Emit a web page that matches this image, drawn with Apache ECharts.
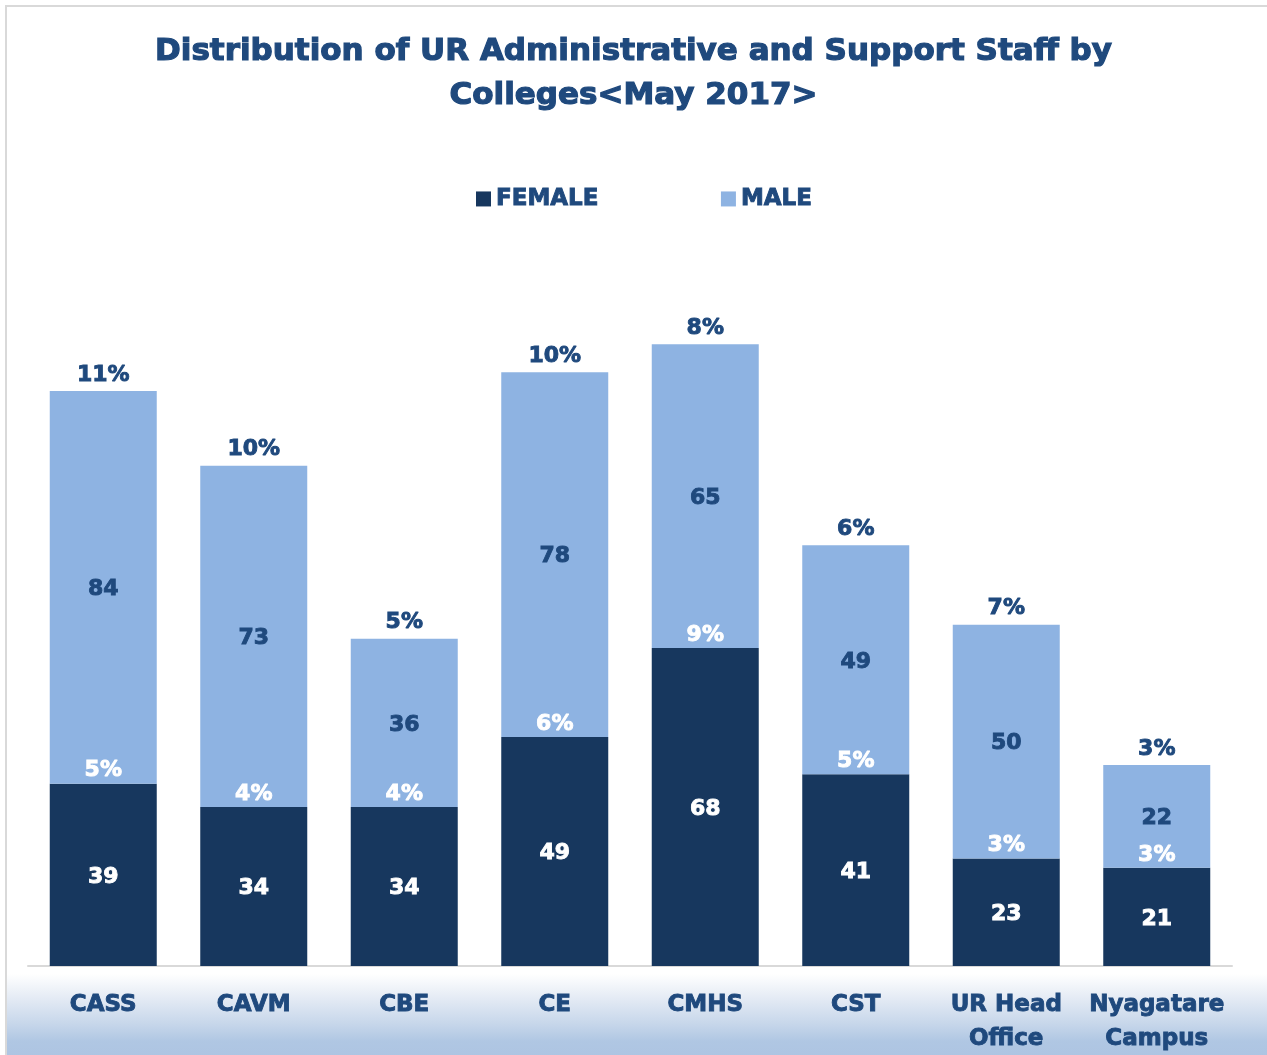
<!DOCTYPE html>
<html><head><meta charset="utf-8">
<script src="https://cdn.jsdelivr.net/npm/echarts@6/dist/echarts.min.js"></script>
<style>html,body{margin:0;padding:0;background:#fff;overflow:hidden}#c{width:1267px;height:1055px}</style>
</head><body><div id="c"></div>
<script>
const categories = ['CASS','CAVM','CBE','CE','CMHS','CST','UR Head\nOffice','Nyagatare\nCampus'];
const female = [39,34,34,49,68,41,23,21];
const male = [84,73,36,78,65,49,50,22];
const femalePct = ['5%','4%','4%','6%','9%','5%','3%','3%'];
const malePct = ['11%','10%','5%','10%','8%','6%','7%','3%'];
const totals = female.map((f,i)=>f+male[i]);

const FONT = '"DejaVu Sans", Verdana, sans-serif';
const TXT = '#1f497d';
function heavy(color, size, extra){
  return Object.assign({fontFamily:FONT,fontWeight:'bold',fontSize:size,color:color,textBorderColor:color,textBorderWidth:0.9}, extra||{});
}
const chart = echarts.init(document.getElementById('c'));
chart.setOption({
  animation:false,
  graphic:[
    {type:'rect', shape:{x:7,y:974,width:1262,height:84},
     style:{fill:new echarts.graphic.LinearGradient(0,0,0,1,[
       {offset:0,color:'#ffffff'},{offset:0.3,color:'#e3eaf4'},{offset:0.6,color:'#c6d6ea'},{offset:0.8,color:'#b0c7e3'},{offset:1,color:'#adc4e2'}])}, z:-1},
    {type:'rect', shape:{x:6,y:6,width:1275,height:1060}, style:{fill:null,stroke:'#d9d9d9',lineWidth:2}, z:-2}
  ],
  title:{
    text:'Distribution of UR Administrative and Support Staff by\nColleges<May 2017>',
    left:'center', top:25,
    textStyle:heavy(TXT,31,{lineHeight:44,textBorderWidth:1.2})
  },
  legend:{
    data:['FEMALE','MALE'], left:471, top:182, itemWidth:15, itemHeight:15, itemGap:122,
    icon:'rect',
    textStyle:heavy(TXT,23,{padding:[0,0,0,0]})
  },
  grid:{left:28,right:35,top:311.5,bottom:89,containLabel:false,outerBoundsMode:'none'},
  xAxis:{
    type:'category', data:categories,
    axisLine:{lineStyle:{color:'#d9d9d9',width:2}}, axisTick:{show:false},
    axisLabel:heavy(TXT,23,{margin:22,lineHeight:34,interval:0})
  },
  yAxis:{type:'value',min:0,max:140,show:false,splitLine:{show:false}},
  series:[
    {name:'FEMALE',type:'bar',stack:'a',data:female,barWidth:107,
     itemStyle:{color:'#17375e'},
     label:Object.assign({show:true,position:'inside',offset:[0,2]},heavy('#ffffff',22))},
    {name:'MALE',type:'bar',stack:'a',data:male,barWidth:107,
     itemStyle:{color:'#8eb3e2'},
     label:Object.assign({show:true,position:'inside',offset:[0,2]},heavy(TXT,22))},
    {name:'fp',type:'line',data:female,symbolSize:0,showSymbol:true,lineStyle:{opacity:0},silent:true,z:5,
     label:Object.assign({show:true,position:'top',distance:2,formatter:p=>femalePct[p.dataIndex]},heavy('#ffffff',22))},
    {name:'mp',type:'line',data:totals,symbolSize:0,showSymbol:true,lineStyle:{opacity:0},silent:true,z:5,
     label:Object.assign({show:true,position:'top',distance:5,formatter:p=>malePct[p.dataIndex]},heavy(TXT,22))}
  ]
});
</script></body></html>
